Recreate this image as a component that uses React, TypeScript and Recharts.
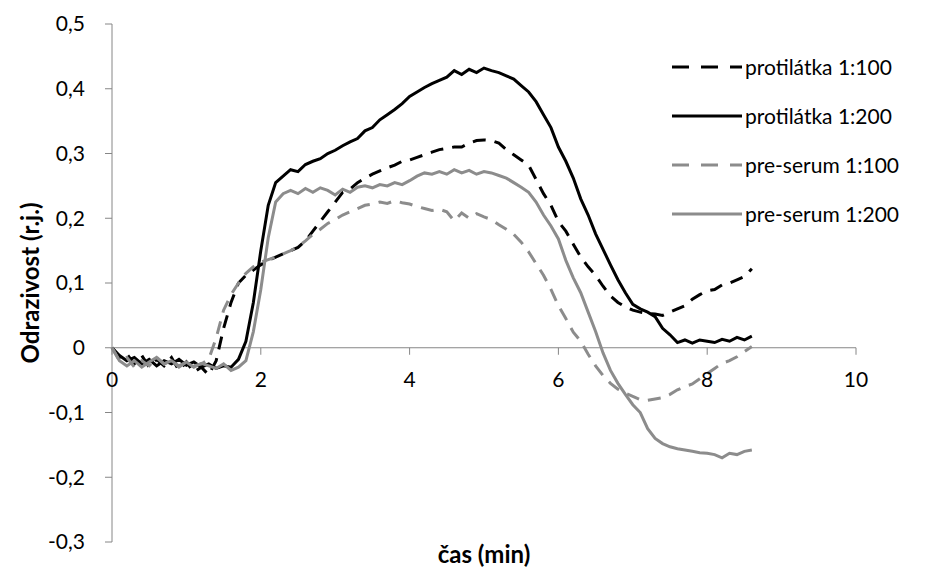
import React from 'react';
import {
  LineChart, Line, XAxis, YAxis, ReferenceLine, ReferenceDot, Legend
} from 'recharts';

// time (min), sampled every 0.1
const time = [
  0, 0.1, 0.2, 0.3, 0.4, 0.5, 0.6, 0.7, 0.8, 0.9,
  1, 1.1, 1.2, 1.3, 1.4, 1.5, 1.6, 1.7, 1.8, 1.9,
  2, 2.1, 2.2, 2.3, 2.4, 2.5, 2.6, 2.7, 2.8, 2.9,
  3, 3.1, 3.2, 3.3, 3.4, 3.5, 3.6, 3.7, 3.8, 3.9,
  4, 4.1, 4.2, 4.3, 4.4, 4.5, 4.6, 4.7, 4.8, 4.9,
  5, 5.1, 5.2, 5.3, 5.4, 5.5, 5.6, 5.7, 5.8, 5.9,
  6, 6.1, 6.2, 6.3, 6.4, 6.5, 6.6, 6.7, 6.8, 6.9,
  7, 7.1, 7.2, 7.3, 7.4, 7.5, 7.6, 7.7, 7.8, 7.9,
  8, 8.1, 8.2, 8.3, 8.4, 8.5, 8.6,
];

const protilatka100 = [
  0, -0.015, -0.01, -0.025, -0.012, -0.03, -0.018, -0.028, -0.015, -0.035,
  -0.022, -0.038, -0.03, -0.042, -0.02, 0.03, 0.07, 0.1, 0.112, 0.12,
  0.128, 0.135, 0.14, 0.145, 0.15, 0.155, 0.165, 0.18, 0.195, 0.21,
  0.225, 0.24, 0.245, 0.255, 0.262, 0.268, 0.273, 0.278, 0.282, 0.288,
  0.29, 0.294, 0.298, 0.302, 0.306, 0.308, 0.31, 0.31, 0.316, 0.32,
  0.321, 0.32, 0.316, 0.306, 0.298, 0.29, 0.282, 0.26, 0.238, 0.22,
  0.195, 0.18, 0.16, 0.14, 0.125, 0.112, 0.095, 0.08, 0.07, 0.063,
  0.058, 0.055, 0.053, 0.052, 0.05, 0.055, 0.06, 0.065, 0.075, 0.082,
  0.088, 0.09, 0.097, 0.1, 0.105, 0.11, 0.122,
];

const protilatka200 = [
  0, -0.012, -0.02, -0.015, -0.025, -0.018, -0.028, -0.02, -0.025, -0.018,
  -0.027, -0.022, -0.03, -0.025, -0.032, -0.028, -0.03, -0.018, 0.01, 0.07,
  0.15, 0.22, 0.255, 0.265, 0.275, 0.272, 0.283, 0.288, 0.292, 0.3,
  0.305, 0.312, 0.318, 0.323, 0.335, 0.34, 0.352, 0.36, 0.368, 0.377,
  0.388, 0.395, 0.402, 0.408, 0.413, 0.418, 0.428, 0.422, 0.43, 0.425,
  0.432, 0.428, 0.425, 0.42, 0.415, 0.405, 0.395, 0.38, 0.36, 0.34,
  0.31, 0.288, 0.262, 0.23, 0.205, 0.176, 0.152, 0.128, 0.105, 0.085,
  0.067, 0.06, 0.055, 0.048, 0.03, 0.02, 0.008, 0.012, 0.007, 0.012,
  0.01, 0.008, 0.013, 0.01, 0.016, 0.012, 0.018,
];

const preserum100 = [
  0, -0.02, -0.015, -0.03, -0.02, -0.028, -0.015, -0.025, -0.02, -0.03,
  -0.022, -0.028, -0.025, -0.018, 0.015, 0.058, 0.082, 0.1, 0.115, 0.125,
  0.132, 0.136, 0.14, 0.145, 0.15, 0.156, 0.165, 0.175, 0.183, 0.192,
  0.198, 0.205, 0.21, 0.215, 0.22, 0.222, 0.225, 0.223, 0.227, 0.224,
  0.222, 0.218, 0.215, 0.212, 0.214, 0.21, 0.196, 0.208, 0.2, 0.207,
  0.202, 0.198, 0.19, 0.183, 0.175, 0.163, 0.148, 0.13, 0.112, 0.09,
  0.065, 0.045, 0.024, 0.01, -0.01, -0.028, -0.043, -0.055, -0.064, -0.07,
  -0.075, -0.08, -0.081, -0.079, -0.077, -0.072, -0.065, -0.06, -0.056, -0.048,
  -0.04, -0.032, -0.024, -0.02, -0.014, -0.006, 0.002,
];

const preserum200 = [
  0, -0.02, -0.028, -0.02, -0.03, -0.022, -0.015, -0.025, -0.02, -0.028,
  -0.022, -0.03, -0.024, -0.028, -0.032, -0.025, -0.035, -0.03, -0.02, 0.025,
  0.09, 0.17, 0.225, 0.238, 0.243, 0.238, 0.246, 0.24, 0.247, 0.243,
  0.236, 0.245, 0.24, 0.248, 0.25, 0.247, 0.252, 0.25, 0.255, 0.252,
  0.258, 0.265, 0.27, 0.268, 0.272, 0.268, 0.275, 0.27, 0.274, 0.268,
  0.272, 0.27, 0.266, 0.262, 0.255, 0.248, 0.24, 0.225, 0.205, 0.188,
  0.168, 0.135, 0.108, 0.085, 0.055, 0.025, -0.008, -0.035, -0.055, -0.072,
  -0.088, -0.1, -0.125, -0.14, -0.148, -0.153, -0.156, -0.158, -0.16, -0.162,
  -0.163, -0.165, -0.17, -0.163, -0.165, -0.16, -0.158,
];

const xTicks = [0, 2, 4, 6, 8, 10];
const yTicks = [-0.3, -0.2, -0.1, 0, 0.1, 0.2, 0.3, 0.4, 0.5];

const data = time.map((t, i) => ({
  t,
  p100: protilatka100[i],
  p200: protilatka200[i],
  s100: preserum100[i],
  s200: preserum200[i],
}));

const FONT = 'Lato, "Open Sans", sans-serif';
const AXIS = '#868686';
const GREY = '#8c8c8c';
const TICK_FS = 21;
const TITLE_FS = 24;

const seriesInfo = [
  { key: 'p100', name: 'protilátka 1:100', color: '#000', dash: '13 9' },
  { key: 'p200', name: 'protilátka 1:200', color: '#000', dash: undefined },
  { key: 's100', name: 'pre-serum 1:100', color: GREY, dash: '13 9' },
  { key: 's200', name: 'pre-serum 1:200', color: GREY, dash: undefined },
];

const fmt = (v: number) => (v === 0 ? '0' : String(v).replace('.', ','));

const XTickAtZero = (props: any) => {
  const { cx, cy, label } = props;
  return (
    <g>
      <line x1={cx} y1={cy} x2={cx} y2={cy + 7} stroke={AXIS} strokeWidth={1} />
      <text x={cx} y={cy + 34} textAnchor="middle" dominantBaseline="middle"
        fontFamily={FONT} fontSize={TICK_FS} fill="#000">{label}</text>
    </g>
  );
};

const LegendBox = () => (
  <div style={{ fontFamily: FONT, fontSize: TICK_FS, color: '#000' }}>
    {seriesInfo.map((s) => (
      <div key={s.key} style={{ display: 'flex', alignItems: 'center', height: 49 }}>
        <svg width={73} height={6} style={{ display: 'block' }}>
          <line x1={0} y1={3} x2={70} y2={3} stroke={s.color} strokeWidth={3}
            strokeDasharray={s.dash ? '17 12' : undefined} />
        </svg>
        <span style={{ whiteSpace: 'nowrap' }}>{s.name}</span>
      </div>
    ))}
  </div>
);

export default function App() {
  return (
    <div style={{ position: 'absolute', left: 0, top: 0, width: 933, height: 569, background: '#fff' }}>
      <LineChart width={933} height={569} data={data}
        margin={{ top: 24, right: 77, bottom: 0, left: 0 }}>
        <XAxis dataKey="t" type="number" domain={[0, 10]} ticks={xTicks}
          tick={false} axisLine={false} tickLine={false} height={27}
          label={{ value: 'čas (min)', position: 'insideBottom', offset: 6,
            style: { fontFamily: FONT, fontSize: TITLE_FS, fontWeight: 700, fill: '#000' } }} />
        <YAxis type="number" domain={[-0.3, 0.5]} ticks={yTicks} width={112}
          tickFormatter={fmt} interval={0}
          axisLine={{ stroke: AXIS }} tickLine={{ stroke: AXIS }}
          tickSize={7} tickMargin={20}
          tick={{ fontFamily: FONT, fontSize: TICK_FS, fill: '#000' }}
          label={{ value: 'Odrazivost (r.j.)', angle: -90, position: 'center', dx: -26,
            style: { fontFamily: FONT, fontSize: TITLE_FS, fontWeight: 700, fill: '#000', textAnchor: 'middle' } }} />
        <ReferenceLine y={0} stroke={AXIS} strokeWidth={1} />
        {xTicks.map((v) => (
          <ReferenceDot key={v} x={v} y={0} r={0}
            shape={(p: any) => <XTickAtZero {...p} label={v} />} />
        ))}
        {seriesInfo.map((s) => (
          <Line key={s.key} type="linear" dataKey={s.key} name={s.name}
            stroke={s.color} strokeWidth={3} strokeDasharray={s.dash}
            dot={false} activeDot={false} isAnimationActive={false} />
        ))}
        <Legend layout="horizontal" verticalAlign="middle" align="center"
          wrapperStyle={{ left: 672, top: 42, width: 260 }}
          content={() => <LegendBox />} />
      </LineChart>
    </div>
  );
}
